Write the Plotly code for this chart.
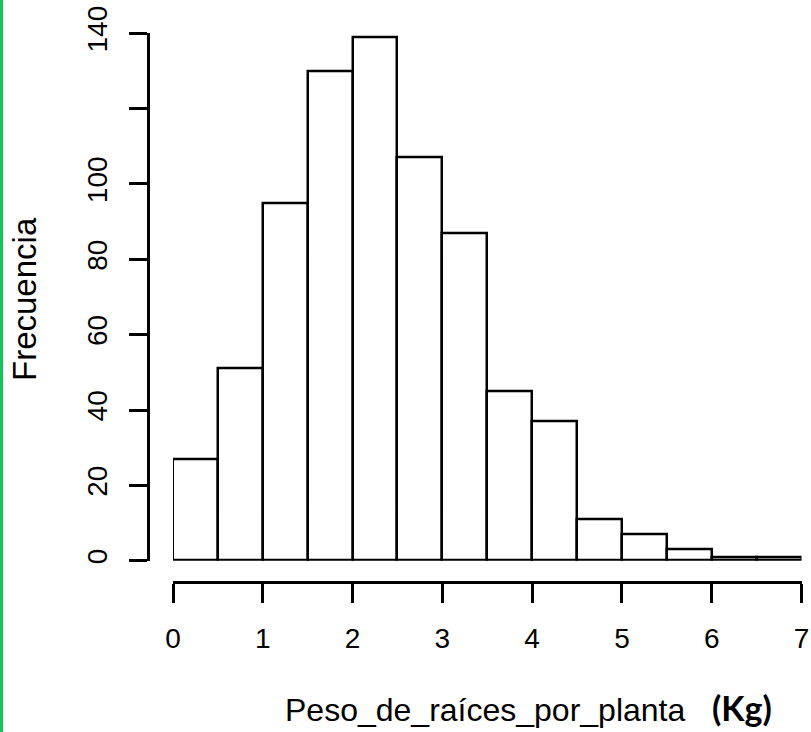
import plotly.graph_objects as go

# Histogram bins (Kg) and counts per bin
bin_left = [0.0, 0.5, 1.0, 1.5, 2.0, 2.5, 3.0, 3.5, 4.0, 4.5, 5.0, 5.5, 6.0, 6.5]
bin_width = 0.5
counts = [27, 51, 95, 130, 139, 107, 87, 45, 37, 11, 7, 3, 1, 1]

x_ticks = [0, 1, 2, 3, 4, 5, 6, 7]
y_ticks = [0, 20, 40, 60, 80, 100, 120, 140]
y_ticktext = ["0", "20", "40", "60", "80", "100", "", "140"]

W, H = 811, 732
FONT = "Liberation Sans, Arial, sans-serif"

centers = [b + bin_width / 2 for b in bin_left]

fig = go.Figure()
fig.add_trace(go.Bar(
    x=centers,
    y=counts,
    width=[bin_width] * len(counts),
    marker=dict(color="white", line=dict(color="black", width=2.5)),
    hoverinfo="x+y",
))

fig.update_layout(
    width=W,
    height=H,
    margin=dict(l=0, r=0, t=0, b=0),
    paper_bgcolor="white",
    plot_bgcolor="white",
    showlegend=False,
    bargap=0,
    font=dict(family=FONT, color="black"),
    xaxis=dict(
        domain=[173 / W, 801.5 / W],
        range=[0, 7],
        anchor="free",
        position=1 - 582.3 / H,
        tickvals=x_ticks,
        ticktext=[str(v) for v in x_ticks],
        ticks="outside",
        ticklen=19,
        tickwidth=2.5,
        tickcolor="black",
        showline=True,
        linecolor="black",
        linewidth=2.5,
        showgrid=False,
        zeroline=False,
        tickfont=dict(size=28, family=FONT, color="black"),
        ticklabelstandoff=11,
        automargin=False,
    ),
    yaxis=dict(
        domain=[1 - 560.7 / H, 1 - 33.3 / H],
        range=[0, 140],
        anchor="free",
        position=147.5 / W,
        tickvals=y_ticks,
        ticktext=y_ticktext,
        tickangle=-90,
        ticks="outside",
        ticklen=18,
        tickwidth=2.5,
        tickcolor="black",
        showline=True,
        linecolor="black",
        linewidth=2.5,
        showgrid=False,
        zeroline=False,
        tickfont=dict(size=28, family=FONT, color="black"),
        ticklabelstandoff=11,
        automargin=False,
    ),
    annotations=[
        dict(
            text="Frecuencia",
            xref="paper", yref="paper",
            x=25 / W, y=1 - 299 / H,
            xanchor="center", yanchor="middle",
            textangle=-90,
            showarrow=False,
            font=dict(size=33, family=FONT, color="black"),
        ),
        dict(
            text="Peso_de_raíces_por_planta   "
                 "<span style='font-family:Lato, Open Sans, sans-serif;font-size:34px'><b>(Kg)</b></span>",
            xref="paper", yref="paper",
            x=528 / W, y=1 - 707 / H,
            xanchor="center", yanchor="middle",
            showarrow=False,
            font=dict(size=32, family=FONT, color="black"),
        ),
    ],
    shapes=[
        dict(
            type="rect", xref="paper", yref="paper",
            x0=0, x1=3 / W, y0=0, y1=1,
            fillcolor="#17c15c", line=dict(width=0),
        ),
    ],
)

fig.write_html("out.html")
